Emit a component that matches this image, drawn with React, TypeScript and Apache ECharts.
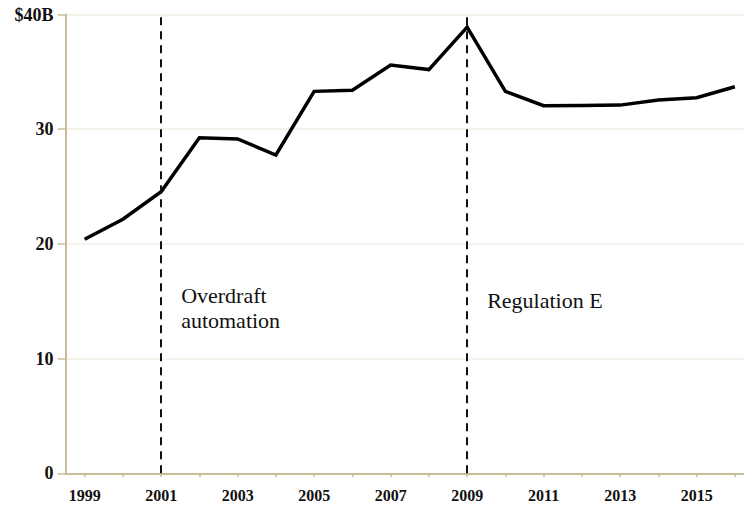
import React, { useEffect, useRef } from "react";
import * as echarts from "echarts";

const years = ["1999","2000","2001","2002","2003","2004","2005","2006","2007","2008","2009","2010","2011","2012","2013","2014","2015","2016"];
const values = [20.4, 22.15, 24.55, 29.25, 29.15, 27.75, 33.3, 33.4, 35.6, 35.2, 38.9, 33.3, 32.05, 32.07, 32.1, 32.55, 32.75, 33.7];
const eventYears = ["2001", "2009"];
const eventLabels = ["Overdraft\nautomation", "Regulation E"];
const eventLabelY = [14.45, 15.05];
const yTicks = [0, 10, 20, 30, 40];

const AXIS = "#c8bf99";
const SERIF = '"Liberation Serif", "Times New Roman", serif';

export default function App() {
  const ref = useRef<HTMLDivElement>(null);
  useEffect(() => {
    if (!ref.current) return;
    const chart = echarts.init(ref.current, undefined, { renderer: "svg" });
    chart.setOption({
      animation: false,
      backgroundColor: "#ffffff",
      grid: { left: 65.5, right: 6, top: 14.5, bottom: 31.7, containLabel: false },
      xAxis: {
        type: "category",
        data: years,
        boundaryGap: true,
        axisLine: { show: true, lineStyle: { color: AXIS, width: 2 } },
        axisTick: { show: true, alignWithLabel: true, interval: 0, length: 4, lineStyle: { color: AXIS, width: 1.5 } },
        axisLabel: {
          interval: 1,
          margin: 14,
          color: "#111",
          fontFamily: SERIF,
          fontWeight: "bold",
          fontSize: 16,
        },
        splitLine: { show: false },
      },
      yAxis: {
        type: "value",
        min: 0,
        max: 40,
        interval: 10,
        axisLine: { show: true, lineStyle: { color: AXIS, width: 2 } },
        axisTick: { show: true, length: 8, lineStyle: { color: AXIS, width: 1.5 } },
        axisLabel: {
          margin: 12,
          color: "#111",
          fontFamily: SERIF,
          fontWeight: "bold",
          fontSize: 18,
          formatter: (v: number) => (v === yTicks[yTicks.length - 1] ? "$" + v + "B" : String(v)),
        },
        splitLine: { show: true, lineStyle: { color: "#f1efe6", width: 1.5 } },
      },
      series: [
        {
          type: "line",
          data: values,
          symbol: "none",
          lineStyle: { color: "#000", width: 3.5, join: "miter" },
          z: 3,
          markLine: {
            silent: true,
            symbol: "none",
            label: { show: false },
            lineStyle: { color: "#111", width: 2, type: [8, 6] },
            data: eventYears.map((y) => ({ xAxis: y })),
          },
          markPoint: {
            symbol: "circle",
            symbolSize: 0,
            silent: true,
            itemStyle: { color: "transparent" },
            data: eventYears.map((y, i) => ({
              coord: [y, eventLabelY[i]],
              label: {
                show: true,
                position: "right",
                distance: 20,
                formatter: eventLabels[i],
                color: "#111",
                fontFamily: SERIF,
                fontSize: 22,
                lineHeight: 25,
                align: "left",
              },
            })),
          },
        },
      ],
    });
    return () => chart.dispose();
  }, []);
  return (
    <div style={{ position: "fixed", left: 0, top: 0, width: 744, height: 505, overflow: "hidden", background: "#fff" }}>
      <div ref={ref} style={{ width: 760, height: 505 }} />
    </div>
  );
}
